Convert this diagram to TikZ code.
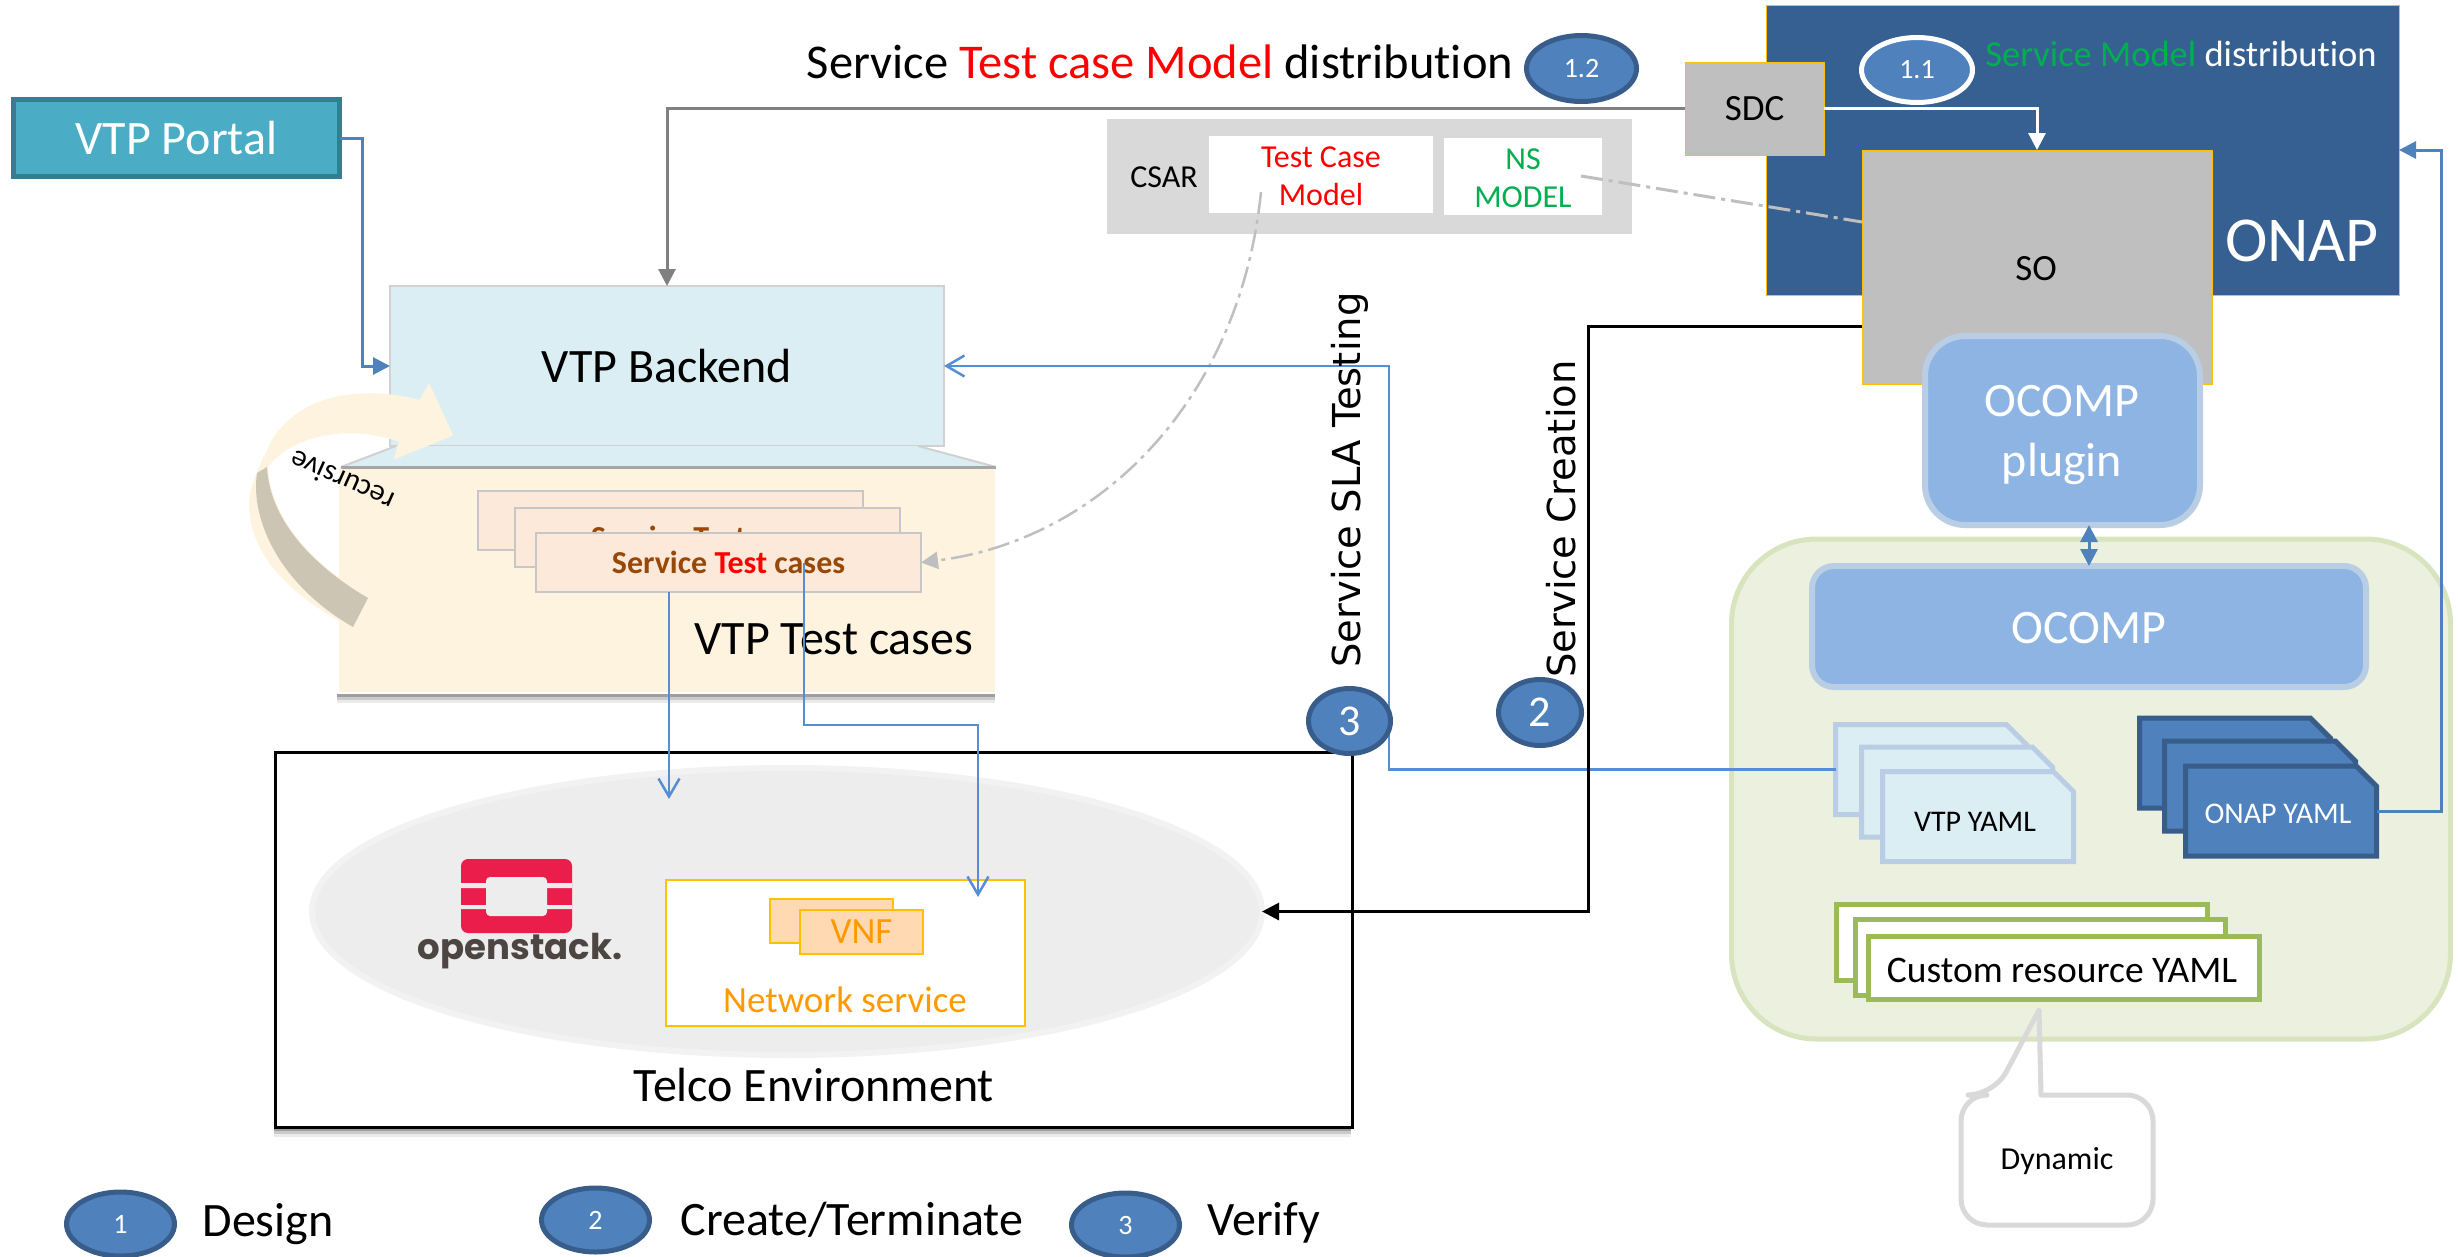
\documentclass[tikz,border=0pt]{standalone}
\usepackage{fontspec}
\setmainfont{Carlito}[RawFeature=-liga]
\newfontfamily\slafont{DejaVu Sans}
\newfontfamily\logofont{Poppins}
\usetikzlibrary{arrows.meta,shapes.geometric,shapes.misc,shadows}
\definecolor{portalblue}{HTML}{4BACC6}
\definecolor{portaledge}{HTML}{357D91}
\definecolor{paleblue}{HTML}{DBEEF4}
\definecolor{cream}{HTML}{FEF3DF}
\definecolor{tan}{HTML}{CDC5B3}
\definecolor{peach}{HTML}{FDE9D9}
\definecolor{onapblue}{HTML}{376092}
\definecolor{stepblue}{HTML}{4F81BD}
\definecolor{stepedge}{HTML}{385D8A}
\definecolor{linkblue}{HTML}{558ED5}
\definecolor{softblue}{HTML}{8EB4E3}
\definecolor{softedge}{HTML}{B9CDE5}
\definecolor{gold}{HTML}{FFC000}
\definecolor{amber}{HTML}{FF9900}
\definecolor{brown}{HTML}{984807}
\definecolor{okgreen}{HTML}{00B050}
\definecolor{yamlgreen}{HTML}{9BBB59}
\definecolor{groupfill}{HTML}{EBF1DE}
\definecolor{groupedge}{HTML}{D7E4BD}
\definecolor{stackred}{HTML}{EB1D4B}
\definecolor{stackgrey}{HTML}{4D4542}
\tikzset{
  box/.style={rectangle,inner sep=0pt,outer sep=0pt},
  stepdisc/.style={ellipse,inner sep=0pt,outer sep=0pt,draw=stepedge,fill=stepblue,line width=5pt,text=white},
  txt/.style={font=\fontsize{48}{60}\selectfont},
  mid/.style={font=\fontsize{37}{46}\selectfont},
  small/.style={font=\fontsize{32}{38}\selectfont},
  doclabel/.style={font=\fontsize{30}{34}\selectfont},
  vtpdoc/.style={chamfered rectangle,chamfered rectangle corners=north east,chamfered rectangle xsep=16pt,chamfered rectangle ysep=17pt,inner sep=0pt,outer sep=0pt,minimum width=191pt,minimum height=90pt,draw=softedge,fill=paleblue,line width=5pt},
  onapdoc/.style={vtpdoc,draw=stepedge,fill=stepblue},
  yamlcard/.style={box,draw=yamlgreen,fill=white,line width=5pt},
  svccard/.style={box,draw=black!22,fill=peach,line width=2pt,minimum width=385pt,minimum height=59pt},
  softshadow/.style={
    drop shadow={shadow xshift=-1pt,shadow yshift=-10pt,fill=black,opacity=.08},
    drop shadow={shadow xshift=-1pt,shadow yshift=-7pt,fill=black,opacity=.14},
    drop shadow={shadow xshift=-1pt,shadow yshift=-4pt,fill=black,opacity=.22}},
  solidlink/.style={line width=3pt,-{Triangle[length=17pt,width=17pt]}},
  openlink/.style={draw=linkblue,line width=2.5pt,-{Straight Barb[length=18pt,width=21pt]}},
}
\begin{document}
\begin{tikzpicture}[x=1pt,y=-1pt]
  \useasboundingbox (0,0) rectangle (2458,1256);

  % left column
  \node (portal) [box,draw=portaledge,fill=portalblue,line width=5pt,minimum width=326pt,minimum height=77pt,text=white,txt] at (176.5,138) {VTP Portal};
  \node (backend) [box,draw=black!18,fill=paleblue,line width=2pt,minimum width=554pt,minimum height=160pt,txt] at (667,366) {VTP Backend};
  \fill[paleblue] (396,446) -- (918,446) -- (996,467) -- (341,467) -- cycle;
  \draw[black!18,line width=2pt] (396,446) -- (341,467) (918,446) -- (996,467);
  \node (testbox) [box,draw=white,line width=2pt,fill=cream,minimum width=658pt,minimum height=226pt,softshadow] at (667,580) {};
  \draw[black!35,line width=3pt] (341,467) -- (996,467);
  \node (cardback) [svccard] at (670.5,520.5) {};
  \node (cardmid) [svccard,text=brown,font=\fontsize{32}{36}\selectfont\bfseries] at (707.5,537.5) {Service Test cases};
  \node (card) [svccard,text=brown,font=\fontsize{32}{36}\selectfont\bfseries] at (728.5,562.5) {Service \textcolor{red}{Test} cases};
  \node (testlabel) [txt] at (834,639) {VTP Test cases};

  % recursive arrow
  \filldraw[draw=cream,fill=cream,line width=2pt,line join=round] (420,401)
    .. controls (370,388) and (305,390) .. (273,440)
    .. controls (258,470) and (250,490) .. (250,503)
    .. controls (250,560) and (300,600) .. (353,627)
    -- (368,598)
    .. controls (320,570) and (270,525) .. (267,467)
    .. controls (285,440) and (340,420) .. (400,441)
    -- (395,458) -- (452,435) -- (429,385) -- cycle;
  \fill[tan] (368,598)
    .. controls (320,570) and (270,525) .. (267,467)
    -- (257,473)
    .. controls (250,520) and (280,585) .. (353,627) -- cycle;
  \node (recursive) [font=\fontsize{30}{36}\selectfont,rotate=156] at (342,481) {recursive};

  % telco environment
  \node (telco) [box,draw=black,line width=3pt,fill=white,minimum width=1077pt,minimum height=375pt,softshadow] at (813.5,939.5) {};
  \node (cloud) [ellipse,inner sep=0pt,outer sep=0pt,draw=black!5,fill=black!7,line width=6pt,minimum width=950pt,minimum height=287pt] at (787,911.5) {};
  \fill[stackred,rounded corners=7pt] (461,859) rectangle (572,933);
  \fill[black!7] (461,883) rectangle (572,888) (461,905) rectangle (572,909);
  \fill[black!7,rounded corners=4pt] (486,877) rectangle (547,916);
  \node (stacktext) [text=stackgrey,font=\logofont\bfseries\fontsize{35.5}{40}\selectfont] at (520,951) {openstack.};
  \node (netservice) [box,draw=gold,fill=white,line width=2pt,minimum width=359pt,minimum height=146pt] at (845.5,953) {};
  \node (vnfback) [box,draw=gold,fill=orange!30!white,line width=2pt,minimum width=123pt,minimum height=44pt] at (831.5,921) {};
  \node (vnf) [box,draw=gold,fill=orange!30!white,line width=2pt,minimum width=123pt,minimum height=44pt,text=amber,mid] at (861.5,932) {VNF};
  \node (netlabel) [text=amber,mid] at (845,1000) {Network service};
  \node (telcolabel) [txt] at (814,1085) {Telco Environment};

  % csar
  \node (csar) [box,fill=black!15,minimum width=525pt,minimum height=115pt] at (1369.5,176.5) {};
  \node (csarlabel) [small] at (1164,177) {CSAR};
  \node (tcm) [box,fill=white,minimum width=224pt,minimum height=77pt] at (1321,174.5) {};
  \node (tcmlabel) [text=red,align=center,small] at (1321,176) {Test Case\\Model};
  \node (nsm) [box,fill=white,minimum width=158pt,minimum height=77pt] at (1523,176.5) {};
  \node (nsmlabel) [text=okgreen,align=center,small] at (1523,178) {NS\\MODEL};

  % onap
  \node (onap) [box,draw=gold,fill=onapblue,line width=1pt,minimum width=633pt,minimum height=290pt] at (2082.5,150) {};
  \node (sdc) [box,draw=gold,fill=black!25,line width=1pt,minimum width=139pt,minimum height=93pt,mid] at (1754.5,108.5) {SDC};
  \node (so) [box,draw=gold,fill=black!25,line width=1pt,minimum width=350pt,minimum height=234pt] at (2037,267) {};
  \node (solabel) [mid] at (2036,269) {SO};
  \node (onaplabel) [text=white,font=\fontsize{64}{70}\selectfont] at (2302,241) {ONAP};
  \node (modeltitle) [text=white,font=\fontsize{36.5}{44}\selectfont] at (2181,54) {\textcolor{okgreen}{Service Model} distribution};

  % yaml group
  \node (yamlgroup) [box,draw=groupedge,fill=groupfill,line width=5pt,rounded corners=85pt,minimum width=719pt,minimum height=500pt] at (2091,789) {};
  \node (plugin) [box,draw=softedge,fill=softblue,line width=6pt,rounded corners=40pt,minimum width=275pt,minimum height=189pt] at (2062.5,430.5) {};
  \node (pluginlabel) [text=white,align=center,txt] at (2062,435) {OCOMP\\plugin};
  \node (ocomp) [box,draw=softedge,fill=softblue,line width=6pt,rounded corners=22pt,minimum width=554pt,minimum height=121pt] at (2089,626.5) {};
  \node (ocomplabel) [text=white,txt] at (2089,628) {OCOMP};
  \node (vtpback) [vtpdoc] at (1931,769.5) {\phantom{VTP YAML}};
  \node (vtpmid) [vtpdoc] at (1957,792) {\phantom{VTP YAML}};
  \node (vtpyaml) [vtpdoc] at (1978,816.5) {\phantom{VTP YAML}};
  \node (vtplabel) [doclabel] at (1975,822) {VTP YAML};
  \node (onapback) [onapdoc] at (2235,763) {\phantom{ONAP YAML}};
  \node (onapmid) [onapdoc] at (2260,786) {\phantom{ONAP YAML}};
  \node (onapyaml) [onapdoc] at (2281,811) {\phantom{ONAP YAML}};
  \node (onaplabeltwo) [doclabel,text=white] at (2278,814) {ONAP YAML};
  \node (customback) [yamlcard,minimum width=371pt,minimum height=76pt] at (2022,942.5) {};
  \node (custommid) [yamlcard,minimum width=370pt,minimum height=76pt] at (2040,957.5) {};
  \node (custom) [yamlcard,minimum width=391pt,minimum height=63pt] at (2064,968) {};
  \node (customlabel) [font=\fontsize{37.5}{46}\selectfont] at (2062,970) {Custom resource YAML};

  % callout
  \draw[draw=black!15,line width=5pt,line join=round] (2041,1095) [rounded corners=26pt] -- (2153,1095) -- (2153,1225) -- (1961,1225) -- (1961,1095) -- (1994,1095) [sharp corners] -- (2039,1010) -- cycle;
  \node (dynamic) [small] at (2057,1161) {Dynamic};

  % connectors
  \coordinate (tcmout) at (1261,192);
  \coordinate (nsmout) at (1581,176);
  \coordinate (soin) at (1862,222);
  \coordinate (soout) at (1862,326);
  \coordinate (socorner) at (1588,326);
  \coordinate (slacorner) at (1389,769.5);
  \coordinate (cardout) at (669,592);
  \coordinate (cloudin) at (669,799);
  \coordinate (cardtap) at (804,563);
  \coordinate (nsbend) at (978,725);
  \coordinate (nsin) at (978,897);
  \draw[solidlink,draw=stepblue] (portal.east) -- ++(23,0) |- (backend.west);
  \draw[solidlink,draw=black!50] (sdc.west) -| (backend.north);
  \draw[solidlink,draw=white] (sdc.east) -| (so.north);
  \draw[line width=3pt,black!25,dash pattern=on 22pt off 6pt on 4pt off 6pt] (nsmout) -- (soin);
  \draw[line width=2.5pt,black!25,dash pattern=on 22pt off 6pt on 4pt off 6pt,-{Triangle[length=17pt,width=17pt]}] (tcmout) .. controls (1240,400) and (1100,540) .. (card.east);
  \draw[openlink] (vtpback.west) -- (slacorner) |- (backend.east);
  \draw[openlink] (cardout) -- (cloudin);
  \draw[openlink] (cardtap) |- (nsbend) -- (nsin);
  \draw[solidlink,draw=black] (soout) -- (socorner) |- (cloud.east);
  \draw[solidlink,draw=stepblue] (onapyaml.east) -- ++(65,0) |- (onap.east);
  \draw[line width=3pt,draw=stepblue,{Triangle[length=17pt,width=17pt]}-{Triangle[length=17pt,width=17pt]}] (ocomp.north) -- (ocomp.north |- plugin.south);

  % step markers and titles
  \node (title) [font=\fontsize{48.5}{60}\selectfont] at (1160,62) {Service \textcolor{red}{Test case Model} distribution};
  \node (step12) [stepdisc,minimum width=110pt,minimum height=66pt,font=\fontsize{28}{32}\selectfont] at (1581.5,68.5) {1.2};
  \node (step11) [stepdisc,draw=white,minimum width=111pt,minimum height=65pt,font=\fontsize{28}{32}\selectfont] at (1917,70) {1.1};
  \node (slalabel) [rotate=90,font=\slafont\fontsize{38.5}{44}\selectfont] at (1350,480) {Service SLA Testing};
  \node (creationlabel) [rotate=90,font=\slafont\fontsize{38.5}{44}\selectfont] at (1561,519) {Service Creation};
  \node (step3) [stepdisc,minimum width=82pt,minimum height=65pt,font=\fontsize{44}{50}\selectfont] at (1349.5,721) {3};
  \node (step2) [stepdisc,minimum width=83pt,minimum height=66pt,font=\fontsize{44}{50}\selectfont] at (1540,712.5) {2};

  % legend
  \node (legend1) [stepdisc,minimum width=108pt,minimum height=64pt,font=\fontsize{28}{32}\selectfont] at (120.5,1224) {1};
  \node (legend2) [stepdisc,minimum width=108pt,minimum height=64pt,font=\fontsize{28}{32}\selectfont] at (595.5,1220) {2};
  \node (legend3) [stepdisc,minimum width=108pt,minimum height=64pt,font=\fontsize{28}{32}\selectfont] at (1125.5,1225) {3};
  \node (designlabel) [txt] at (268,1224) {Design};
  \node (createlabel) [txt] at (852,1220) {Create/Terminate};
  \node (verifylabel) [txt] at (1264,1223) {Verify};
\end{tikzpicture}
\end{document}
